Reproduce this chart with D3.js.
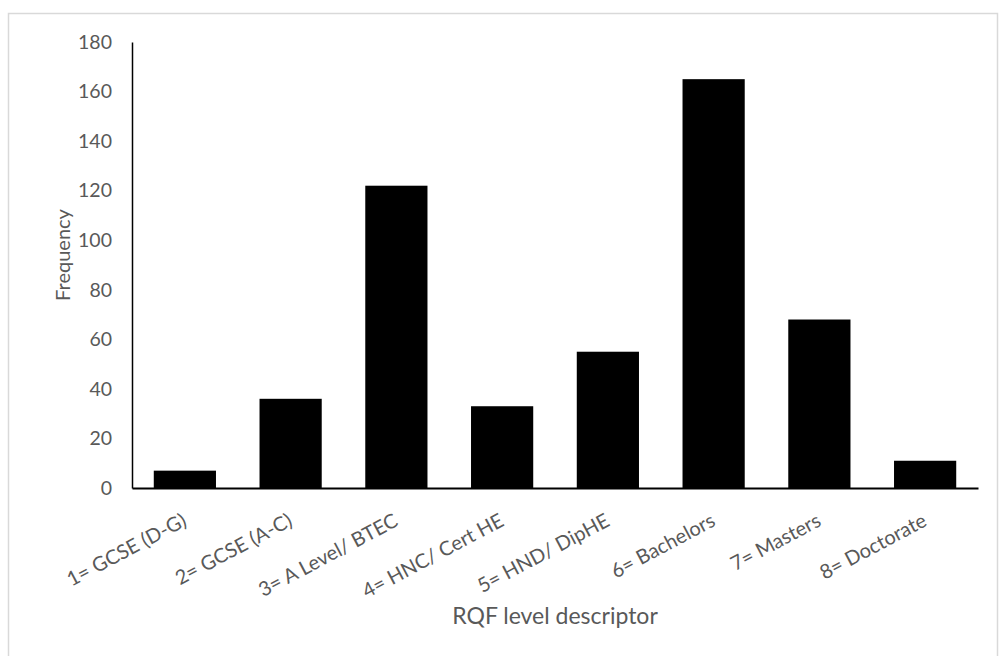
<!DOCTYPE html>
<html>
<head>
<meta charset="utf-8">
<script src="https://cdn.jsdelivr.net/npm/d3@7"></script>
<style>
  html, body { margin: 0; padding: 0; background: #fff; }
  svg { display: block; }
  text { font-family: Lato, "Open Sans", sans-serif; fill: #595959; }
</style>
</head>
<body>
<svg id="chart" width="1005" height="656"></svg>
<script>
const categories = ["1= GCSE (D-G)", "2= GCSE (A-C)", "3= A Level/ BTEC", "4= HNC/ Cert HE",
                    "5= HND/ DipHE", "6= Bachelors", "7= Masters", "8= Doctorate"];
const frequency = [7, 36, 122, 33, 55, 165, 68, 11];
const yTicks = [0, 20, 40, 60, 80, 100, 120, 140, 160, 180];
const yTitle = "Frequency";
const xTitle = "RQF level descriptor";

const svg = d3.select("#chart");
const mLeft = 132, mRight = 978, mTop = 42, mBottom = 488;

svg.append("rect").attr("x", 8.5).attr("y", 13.5).attr("width", 989).attr("height", 660)
  .attr("fill", "#fff").attr("stroke", "#d9d9d9").attr("stroke-width", 1.5);

const x = d3.scaleBand().domain(categories).range([mLeft, mRight])
  .paddingInner(0.7 / 1.7).paddingOuter(0.35 / 1.7);
const y = d3.scaleLinear().domain([0, 180]).range([mBottom, mTop]);

svg.append("g").selectAll("rect").data(frequency).join("rect")
  .attr("x", (d, i) => x(categories[i]))
  .attr("y", d => y(d))
  .attr("width", x.bandwidth())
  .attr("height", d => y(0) - y(d))
  .attr("fill", "#000");

// y axis
const yAxis = svg.append("g").attr("transform", `translate(${mLeft},0)`)
  .call(d3.axisLeft(y).tickValues(yTicks).tickSize(0).tickPadding(20));
yAxis.select(".domain").attr("stroke", "#000").attr("stroke-width", 1.5);
yAxis.selectAll("text").attr("font-size", "19.5px").attr("fill", "#595959")
  .attr("font-family", "Lato, sans-serif");

// x axis
const xAxis = svg.append("g").attr("transform", `translate(0,${mBottom})`)
  .call(d3.axisBottom(x).tickSize(0).tickFormat(""));
xAxis.select(".domain").attr("stroke", "#000").attr("stroke-width", 2);

svg.append("g").selectAll("text").data(categories).join("text")
  .attr("transform", d => `translate(${x(d) + x.bandwidth() / 2 + 3},${mBottom + 37}) rotate(-28)`)
  .attr("text-anchor", "end")
  .attr("font-size", "20px")
  .text(d => d);

svg.append("text").attr("transform", `translate(70,255) rotate(-90)`)
  .attr("text-anchor", "middle").attr("font-size", "20px").text(yTitle);

svg.append("text").attr("x", (mLeft + mRight) / 2).attr("y", 624)
  .attr("text-anchor", "middle").attr("font-size", "23px").text(xTitle);
</script>
</body>
</html>
